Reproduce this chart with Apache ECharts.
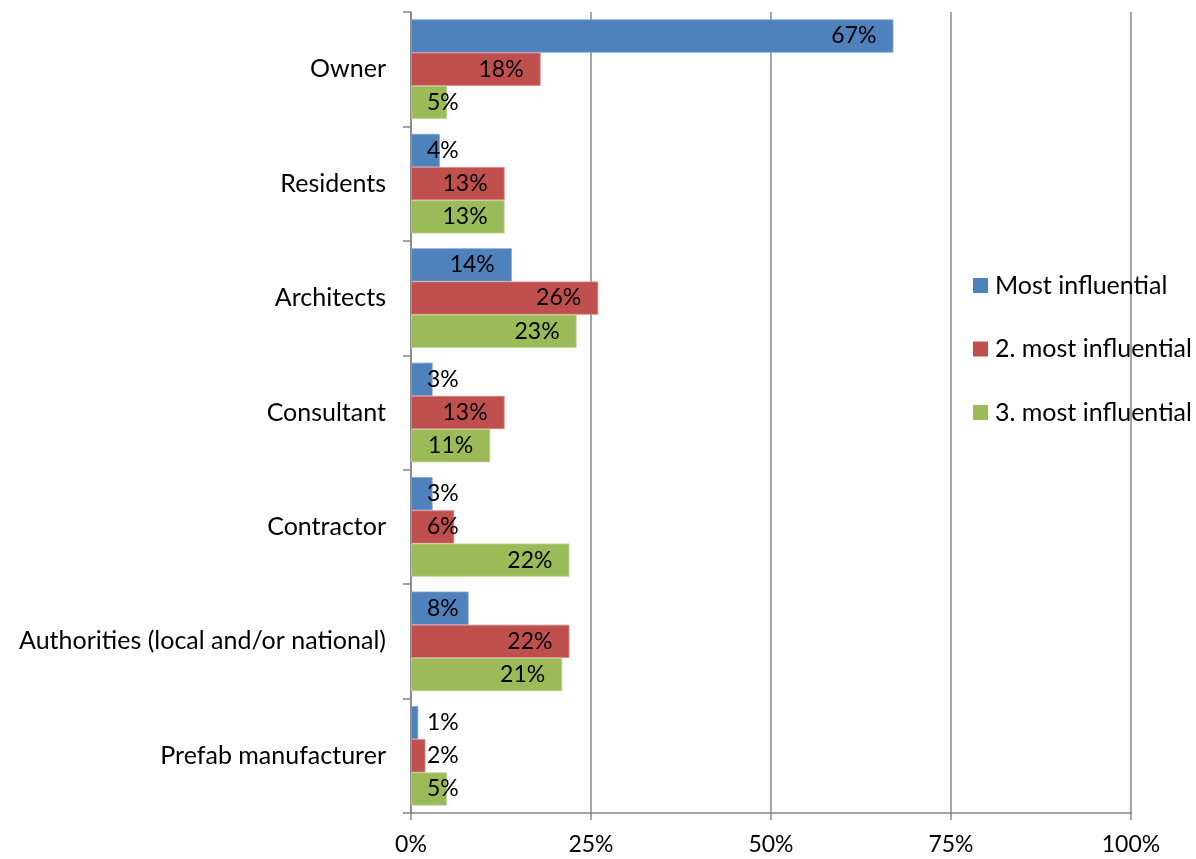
<!DOCTYPE html>
<html><head><meta charset="utf-8">
<script src="https://cdn.jsdelivr.net/npm/echarts@6/dist/echarts.min.js"></script>
<style>html,body{margin:0;padding:0;background:#fff}#c{width:1196px;height:859px}</style>
</head><body><div id="c"></div>
<script>
const categories = ['Owner','Residents','Architects','Consultant','Contractor','Authorities (local and/or national)','Prefab manufacturer'];
const seriesNames = ['Most influential','2. most influential','3. most influential'];
const mostInfluential = [67,4,14,3,3,8,1];
const secondMost = [18,13,26,13,6,22,2];
const thirdMost = [5,13,23,11,22,21,5];
const xTickValues = [0,25,50,75,100];

const FONT = 'Lato, "Open Sans", sans-serif';
const FS_NUM = 23;
const FS_TXT = 25;
const colors = ['#4F81BD','#C0504D','#9BBB59'];
const borders = ['#7FA3D0','#D98583','#BCD394'];
const gridLeft = 411, gridRight = 65;
const plotW = 1196 - gridLeft - gridRight;

const ctx = document.createElement('canvas').getContext('2d');
ctx.font = FS_NUM + 'px ' + FONT;
function labelFor(v){
  const txt = v + '%';
  const w = ctx.measureText(txt).width;
  const barPx = v/100*plotW;
  if (barPx - 17 - w < 16) {
    return {show:true, position:[16,'50%'], align:'left', verticalAlign:'middle'};
  }
  return {show:true, position:'insideRight', distance:17};
}
function buildData(arr){ return arr.map(v => ({value:v, label:labelFor(v)})); }

const dataSets = [mostInfluential, secondMost, thirdMost];
const chart = echarts.init(document.getElementById('c'));
chart.setOption({
  animation:false,
  textStyle:{fontFamily:FONT},
  grid:{left:gridLeft, right:gridRight, top:12, bottom:46},
  legend:{
    orient:'vertical', left:968, top:268, itemWidth:15, itemHeight:15, itemGap:38.5, icon:'rect',
    textStyle:{fontSize:FS_TXT, color:'#000', fontFamily:FONT, padding:[0,0,0,2]},
    data:seriesNames.map((n,i)=>({name:n, itemStyle:{borderWidth:0}}))
  },
  xAxis:{
    type:'value', min:0, max:100, interval:25,
    axisLine:{show:true, lineStyle:{color:'#868686', width:1.5}},
    axisTick:{show:true, length:7, lineStyle:{color:'#868686', width:1.5}},
    splitLine:{show:true, lineStyle:{color:'#868686', width:1.5}},
    axisLabel:{formatter:v=>v+'%', fontSize:FS_NUM, color:'#000', margin:20, fontFamily:FONT}
  },
  yAxis:{
    type:'category', inverse:true, data:categories,
    axisLine:{show:true, lineStyle:{color:'#868686', width:1.5}},
    axisTick:{show:true, length:8, lineStyle:{color:'#868686', width:1.5}},
    axisLabel:{fontSize:FS_TXT, color:'#000', margin:25, fontFamily:FONT}
  },
  series: dataSets.map((arr,i)=>({
    name:seriesNames[i], type:'bar', data:buildData(arr),
    barGap:'0%', barCategoryGap:'13%',
    itemStyle:{color:colors[i], borderColor:borders[i], borderWidth:0.8},
    label:{show:true, formatter:'{c}%', fontSize:FS_NUM, color:'#000', fontFamily:FONT}
  }))
});
</script></body></html>
